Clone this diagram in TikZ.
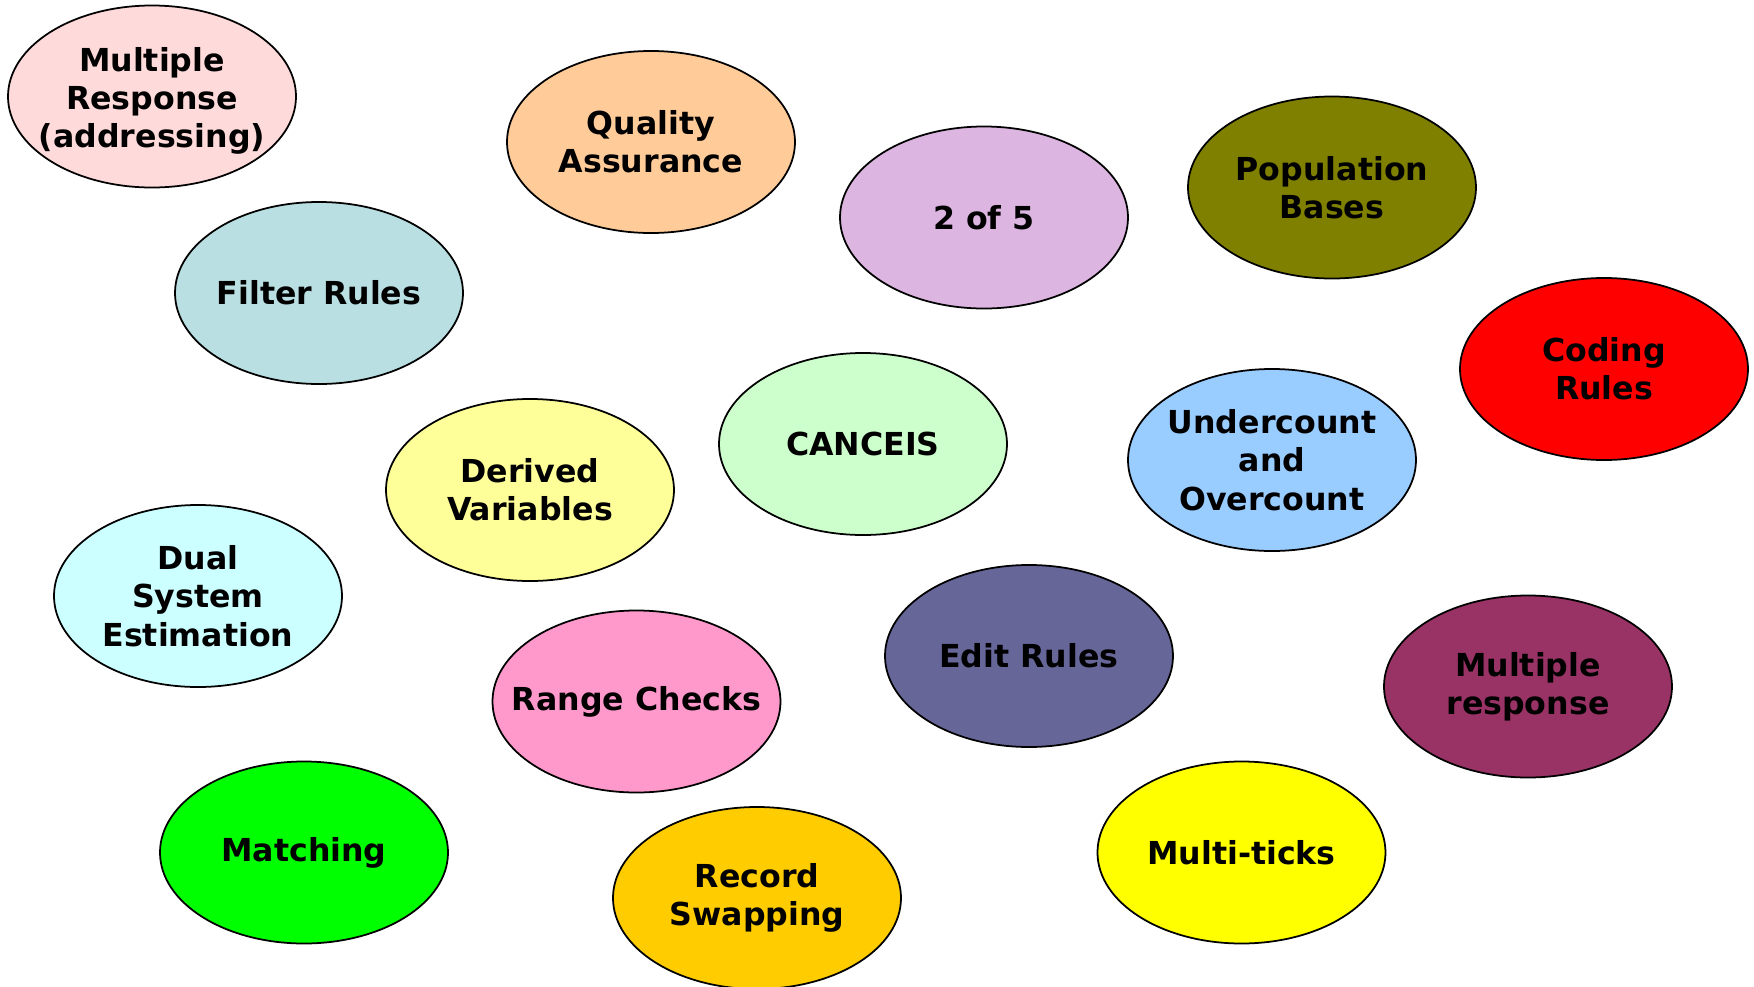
\documentclass[tikz,border=0pt]{standalone}
\usepackage{fontspec}
\setmainfont{DejaVu Sans}
\usepackage{xcolor}
\usepackage{tikz}
\usetikzlibrary{shapes.geometric}

\definecolor{mrpink}{HTML}{FFDADA}
\definecolor{qapeach}{HTML}{FFCC99}
\definecolor{filtblue}{HTML}{B9DFE3}
\definecolor{lilac}{HTML}{DDB5E1}
\definecolor{olive}{HTML}{808000}
\definecolor{codered}{HTML}{FF0000}
\definecolor{mintgreen}{HTML}{CCFFCC}
\definecolor{paleyellow}{HTML}{FFFF99}
\definecolor{skyblue}{HTML}{99CCFF}
\definecolor{palecyan}{HTML}{CCFFFF}
\definecolor{rosepink}{HTML}{FF99CC}
\definecolor{slateblue}{HTML}{666699}
\definecolor{plum}{HTML}{993366}
\definecolor{brightgreen}{HTML}{00FF00}
\definecolor{amber}{HTML}{FFCC00}
\definecolor{brightyellow}{HTML}{FFFF00}

\begin{document}
\begin{tikzpicture}[
  font=\fontsize{9}{10.9}\selectfont\bfseries,
  bubble/.style={ellipse, draw, fill=#1, line width=0.5pt, minimum width=2.88cm, minimum height=1.82cm, inner sep=-1cm, align=center}
]
\useasboundingbox (0,0) rectangle (17.54,-9.87);

% top row
\node[bubble=mrpink] (mra) at (1.52,-0.965) {\rule{0pt}{0.33cm}Multiple\\Response\\(addressing)};
\node[bubble=qapeach] (qa) at (6.51,-1.42) {Quality\\Assurance};
\node[bubble=lilac] (twofive) at (9.84,-2.175) {2 of 5};
\node[bubble=olive] (pop) at (13.32,-1.875) {Population\\Bases};

% second row
\node[bubble=filtblue] (filt) at (3.19,-2.93) {Filter Rules};
\node[bubble=codered] (coding) at (16.04,-3.69) {Coding\\Rules};
\node[bubble=mintgreen] (canceis) at (8.63,-4.44) {CANCEIS};
\node[bubble=paleyellow] (derived) at (5.30,-4.90) {Derived\\Variables};
\node[bubble=skyblue] (under) at (12.72,-4.60) {Undercount\\and\\Overcount};

% third row
\node[bubble=palecyan] (dual) at (1.98,-5.96) {Dual\\System\\Estimation};
\node[bubble=rosepink] (range) at (6.365,-7.015) {Range Checks};
\node[bubble=slateblue] (edit) at (10.29,-6.56) {Edit Rules};
\node[bubble=plum] (multresp) at (15.28,-6.865) {Multiple\\response};

% bottom row
\node[bubble=brightgreen] (matching) at (3.04,-8.525) {Matching};
\node[bubble=amber] (record) at (7.57,-8.98) {Record\\Swapping};
\node[bubble=brightyellow] (ticks) at (12.415,-8.525) {Multi-ticks};
\end{tikzpicture}
\end{document}
